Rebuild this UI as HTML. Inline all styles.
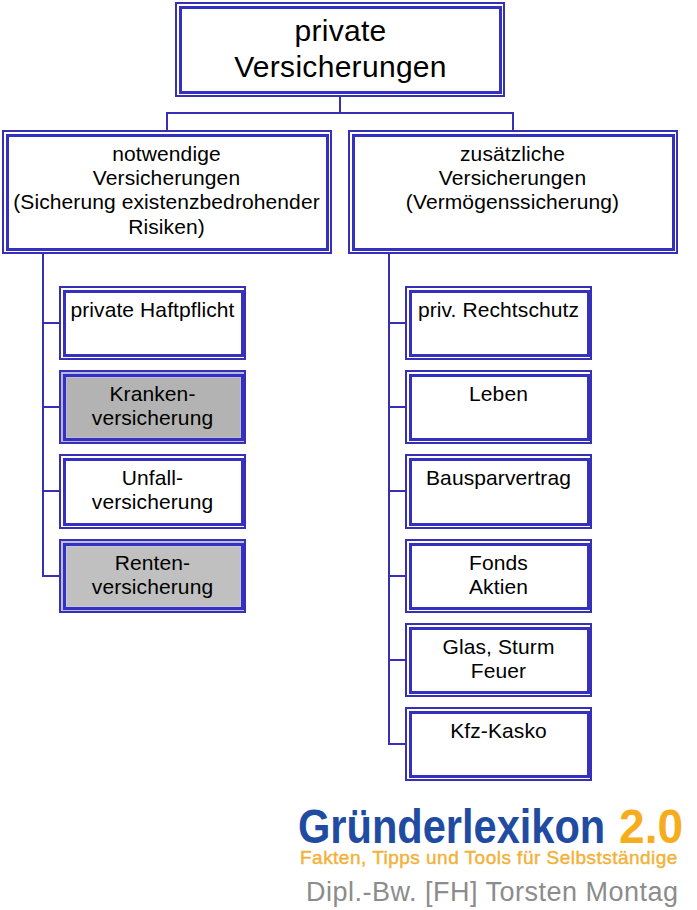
<!DOCTYPE html>
<html><head><meta charset="utf-8"><style>
html,body{margin:0;padding:0;background:#fff;}
body{width:697px;height:910px;position:relative;overflow:hidden;font-family:"Liberation Sans",sans-serif;color:#000;}
.b{position:absolute;box-sizing:border-box;border:2px solid #3830b4;padding:2px 1px 1px 2px;}
.i{box-sizing:border-box;border:3px solid #3531c0;height:100%;text-align:center;white-space:nowrap;padding-right:2px;}
.l{position:absolute;background:#3830b4;}
.lg{position:absolute;white-space:nowrap;transform-origin:0 0;}
</style></head><body>

<div class="l" style="left:339px;top:97px;width:2px;height:17px"></div>
<div class="l" style="left:166px;top:112px;width:348px;height:2px"></div>
<div class="l" style="left:166px;top:112px;width:2px;height:18px"></div>
<div class="l" style="left:512px;top:112px;width:2px;height:18px"></div>
<div class="l" style="left:42px;top:254px;width:2px;height:323px"></div>
<div class="l" style="left:42px;top:322px;width:17px;height:2px"></div>
<div class="l" style="left:42px;top:406px;width:17px;height:2px"></div>
<div class="l" style="left:42px;top:490px;width:17px;height:2px"></div>
<div class="l" style="left:42px;top:575px;width:17px;height:2px"></div>
<div class="l" style="left:388px;top:254px;width:2px;height:491px"></div>
<div class="l" style="left:388px;top:322px;width:17px;height:2px"></div>
<div class="l" style="left:388px;top:406px;width:17px;height:2px"></div>
<div class="l" style="left:388px;top:490px;width:17px;height:2px"></div>
<div class="l" style="left:388px;top:575px;width:17px;height:2px"></div>
<div class="l" style="left:388px;top:659px;width:17px;height:2px"></div>
<div class="l" style="left:388px;top:743px;width:17px;height:2px"></div>
<div class="b" style="left:175px;top:2px;width:330px;height:95px;background:#fff"><div class="i" style="font-size:30px;line-height:35.5px;padding-top:4.1px;background:#fff;letter-spacing:0.3px;padding-right:0px">private<br>Versicherungen</div></div>
<div class="b" style="left:2px;top:130px;width:330px;height:124px;background:#fff"><div class="i" style="font-size:21px;line-height:24.4px;padding-top:4.6px;background:#fff;letter-spacing:0.1px">notwendige<br>Versicherungen<br>(Sicherung existenzbedrohender<br>Risiken)</div></div>
<div class="b" style="left:348px;top:130px;width:330px;height:124px;background:#fff"><div class="i" style="font-size:21px;line-height:24.4px;padding-top:4.6px;background:#fff;letter-spacing:0.1px">zusätzliche<br>Versicherungen<br>(Vermögenssicherung)</div></div>
<div class="b" style="left:59px;top:286px;width:187px;height:74px;background:#fff;padding-right:0px"><div class="i" style="font-size:21px;line-height:24.4px;padding-top:4.6px;background:#fff;letter-spacing:0.1px">private Haftpflicht</div></div>
<div class="b" style="left:59px;top:370px;width:187px;height:74px;background:#b6b8e4;padding-right:0px"><div class="i" style="font-size:21px;line-height:24.4px;padding-top:4.6px;background:#b3b3b3;letter-spacing:0.1px;box-shadow:inset 0 0 0 1px #bbbbd8">Kranken-<br>versicherung</div></div>
<div class="b" style="left:59px;top:454px;width:187px;height:75px;background:#fff;padding-right:0px"><div class="i" style="font-size:21px;line-height:24.4px;padding-top:4.6px;background:#fff;letter-spacing:0.1px">Unfall-<br>versicherung</div></div>
<div class="b" style="left:59px;top:539px;width:187px;height:74px;background:#bcbee8;padding-right:0px"><div class="i" style="font-size:21px;line-height:24.4px;padding-top:4.6px;background:#c0c0c0;letter-spacing:0.1px;box-shadow:inset 0 0 0 1px #c6c6e0">Renten-<br>versicherung</div></div>
<div class="b" style="left:405px;top:286px;width:187px;height:74px;background:#fff;padding-right:0px"><div class="i" style="font-size:21px;line-height:24.4px;padding-top:4.6px;background:#fff;letter-spacing:0.1px">priv. Rechtschutz</div></div>
<div class="b" style="left:405px;top:370px;width:187px;height:74px;background:#fff;padding-right:0px"><div class="i" style="font-size:21px;line-height:24.4px;padding-top:4.6px;background:#fff;letter-spacing:0.1px">Leben</div></div>
<div class="b" style="left:405px;top:454px;width:187px;height:75px;background:#fff;padding-right:0px"><div class="i" style="font-size:21px;line-height:24.4px;padding-top:4.6px;background:#fff;letter-spacing:0.1px">Bausparvertrag</div></div>
<div class="b" style="left:405px;top:539px;width:187px;height:74px;background:#fff;padding-right:0px"><div class="i" style="font-size:21px;line-height:24.4px;padding-top:4.6px;background:#fff;letter-spacing:0.1px">Fonds<br>Aktien</div></div>
<div class="b" style="left:405px;top:623px;width:187px;height:74px;background:#fff;padding-right:0px"><div class="i" style="font-size:21px;line-height:24.4px;padding-top:4.6px;background:#fff;letter-spacing:0.1px">Glas, Sturm<br>Feuer</div></div>
<div class="b" style="left:405px;top:707px;width:187px;height:74px;background:#fff;padding-right:0px"><div class="i" style="font-size:21px;line-height:24.4px;padding-top:4.6px;background:#fff;letter-spacing:0.1px">Kfz-Kasko</div></div>
<div class="lg" style="left:298px;top:798.6px;font-weight:bold;font-size:48px;line-height:56px;color:#1f4ca2;transform:scaleX(0.866)">Gründerlexikon</div>
<div class="lg" style="left:619px;top:798.5px;font-weight:bold;font-size:48px;line-height:56px;color:#f5ad1e;transform:scaleX(0.96)">2.0</div>
<div class="lg" style="left:300px;top:847px;font-size:19px;line-height:22px;color:#f2b23a;-webkit-text-stroke:0.45px #f2b23a;letter-spacing:0.48px">Fakten, Tipps und Tools für Selbstständige</div>
<div class="lg" style="left:306px;top:877px;font-size:27px;line-height:31px;color:#8c8c8c;letter-spacing:0.5px">Dipl.-Bw. [FH] Torsten Montag</div>
</body></html>
